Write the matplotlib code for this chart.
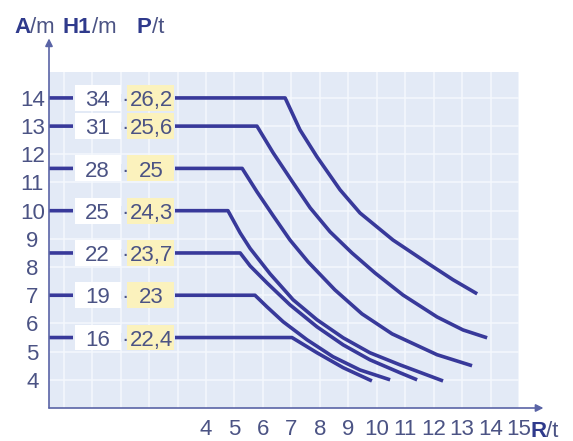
import matplotlib.pyplot as plt
from matplotlib.patches import Rectangle

plt.rcParams['font.family'] = ['Liberation Sans Narrow', 'Liberation Sans', 'DejaVu Sans']

# axis ticks
a_ticks = list(range(4, 15))
r_ticks = list(range(4, 16))

# one row per boom length
h1_labels = ['34', '31', '28', '25', '22', '19', '16']
p_labels = ['26,2', '25,6', '25', '24,3', '23,7', '23', '22,4']

# curves (R/t, A/m), starting at the knee
r_34 = [6.78, 7.30, 7.90, 8.71, 9.41, 10.57, 11.77, 12.68, 13.53]
a_34 = [14.0, 12.87, 11.91, 10.74, 9.92, 8.96, 8.15, 7.55, 7.05]
r_31 = [5.79, 6.36, 7.06, 7.66, 8.36, 9.13, 9.94, 10.92, 12.12, 13.03, 13.88]
a_31 = [13.0, 12.05, 10.99, 10.10, 9.25, 8.50, 7.79, 7.01, 6.23, 5.77, 5.49]
r_28 = [5.27, 5.79, 6.36, 6.95, 7.59, 8.53, 9.48, 10.54, 12.12, 13.35]
a_28 = [11.5, 10.67, 9.82, 8.96, 8.18, 7.19, 6.34, 5.63, 4.89, 4.50]
r_25 = [4.77, 5.20, 5.55, 6.25, 7.06, 7.90, 8.82, 9.76, 10.82, 12.33]
a_25 = [10.0, 9.21, 8.66, 7.76, 6.84, 6.13, 5.49, 4.96, 4.53, 3.96]
r_22 = [5.20, 5.55, 6.14, 6.95, 7.90, 8.82, 9.76, 10.82, 11.42]
a_22 = [8.5, 8.04, 7.44, 6.66, 5.88, 5.24, 4.71, 4.25, 4.0]
r_19 = [5.72, 6.14, 6.71, 7.55, 8.46, 9.41, 10.47]
a_19 = [7.0, 6.59, 6.06, 5.42, 4.82, 4.35, 4.0]
r_16 = [7.02, 7.90, 8.82, 9.83]
a_16 = [5.5, 4.96, 4.43, 3.96]

curves = [(r_34, a_34), (r_31, a_31), (r_28, a_28), (r_25, a_25),
          (r_22, a_22), (r_19, a_19), (r_16, a_16)]

bg = '#e3eaf6'
line_col = '#38399a'
txt_col = '#4b5384'
bold_col = '#2f3a8c'
fs = 16

fig = plt.figure(figsize=(5.73, 4.41), dpi=100)
ax = fig.add_axes([49/573, 33/441, 470/573, 336/441])
x_left, x_right = -1.52, 15.0
ax.set_xlim(x_left, x_right)
ax.set_ylim(3.0, 14.92)
ax.set_facecolor(bg)
for s in ax.spines.values():
    s.set_visible(False)

ax.set_xticks(r_ticks)
ax.set_xticks(range(-1, 4), minor=True)
ax.set_yticks(a_ticks)
ax.grid(True, which='both', color='#f5f8fd', lw=1.1)
ax.set_axisbelow(True)
ax.tick_params(which='both', length=0, labelsize=fs, labelcolor=txt_col)
ax.tick_params(axis='x', pad=8)
ax.tick_params(axis='y', pad=12)
for lab in ax.get_yticklabels():
    lab.set_horizontalalignment('center')

# axes with arrows
arrow = dict(arrowstyle='-|>', color='#5a64a6', lw=1.2, mutation_scale=11,
             shrinkA=0, shrinkB=0)
ax.annotate('', xy=(0, 1.10), xytext=(0, 0), xycoords='axes fraction',
            arrowprops=arrow, annotation_clip=False)
ax.annotate('', xy=(1.052, 0), xytext=(0, 0), xycoords='axes fraction',
            arrowprops=arrow, annotation_clip=False)

# curves
for r, a in curves:
    ax.plot([x_left] + r, [a[0]] + a, color=line_col, lw=2.6,
            solid_joinstyle='round', solid_capstyle='butt', zorder=2, clip_on=False)

# label boxes on each row
for h1, p, (r, a) in zip(h1_labels, p_labels, curves):
    y = a[0]
    ax.add_patch(Rectangle((-0.68, y - 0.15), 3.6, 0.3, color=bg, lw=0, zorder=3))
    ax.add_patch(Rectangle((-0.60, y - 0.46), 1.61, 0.92, color='white', lw=0, zorder=4))
    ax.add_patch(Rectangle((1.22, y - 0.46), 1.66, 0.92, color='#fbf2bd', lw=0, zorder=4))
    ax.text(0.19, y - 0.29, h1, ha='center', va='baseline', fontsize=fs,
            color=txt_col, zorder=5)
    ax.text(1.14, y - 0.29, '·', ha='center', va='baseline', fontsize=fs,
            color=txt_col, zorder=5)
    ax.text(2.07, y - 0.29, p, ha='center', va='baseline', fontsize=fs,
            color=txt_col, zorder=5)

# header
def unit_label(x, y, bold, rest):
    t = fig.text(x, y, bold, fontsize=fs, fontweight='bold', color=bold_col,
                 va='baseline')
    ax.annotate(rest, xy=(1, 0), xycoords=t, va='bottom', fontsize=fs,
                color=txt_col, annotation_clip=False)

unit_label(14/573, 1 - 33/441, 'A', '/m')
unit_label(63/573, 1 - 33/441, 'H1', '/m')
unit_label(137/573, 1 - 33/441, 'P', '/t')
unit_label(530/573, 1 - 437/441, 'R', '/t')

fig.savefig('out.png', dpi=100)
